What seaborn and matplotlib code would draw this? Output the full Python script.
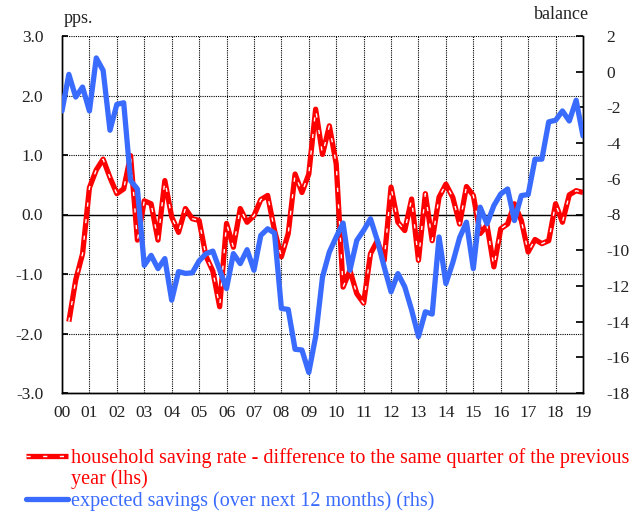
import numpy as np
import pandas as pd
import seaborn as sns
import matplotlib
matplotlib.use("Agg")
from matplotlib import pyplot as plt
from matplotlib.lines import Line2D

# quarterly data, 2000Q1 .. 2019Q1
blue_start = 2000.0
expected_savings = [
    -2.2, -0.15, -1.42, -0.86,
    -2.2, 0.77, 0.07, -3.28,
    -1.83, -1.74, -6.1, -6.57,
    -10.85, -10.29, -11.03, -10.47,
    -12.8, -11.2, -11.3, -11.27,
    -10.6, -10.2, -10.05, -11.1,
    -12.15, -10.19, -10.75, -9.97,
    -11.12, -9.17, -8.8, -9.04,
    -13.26, -13.32, -15.55, -15.59,
    -16.85, -14.84, -11.5, -10.1,
    -9.26, -8.48, -11.12, -9.45,
    -8.89, -8.24, -9.45, -10.94,
    -12.33, -11.31, -12.05, -13.35,
    -14.84, -13.45, -13.58, -9.26,
    -11.87, -10.7, -9.3, -8.43,
    -11.03, -7.59, -8.52, -7.5,
    -6.85, -6.57, -8.34, -6.94,
    -6.88, -4.9, -4.9, -2.81,
    -2.72, -2.2, -2.76, -1.6,
    -3.6,
]

# quarterly data, 2000Q2 .. 2019Q1
red_start = 2000.25
saving_rate_diff = [
    -1.8, -1.1, -0.66,
    0.45, 0.75, 0.93, 0.62,
    0.35, 0.43, 0.99, -0.43,
    0.23, 0.18, -0.43, 0.57,
    -0.04, -0.3, 0.1, -0.07,
    -0.1, -0.7, -0.95, -1.55,
    -0.15, -0.55, 0.1, -0.13,
    -0.02, 0.25, 0.32, -0.27,
    -0.71, -0.32, 0.68, 0.37,
    0.68, 1.77, 1.01, 1.49,
    0.85, -1.22, -0.94, -1.33,
    -1.49, -0.66, -0.44, -0.77,
    0.46, -0.13, -0.27, 0.26,
    -0.77, 0.35, -0.44, 0.29,
    0.51, 0.29, -0.16, 0.47,
    0.32, -0.32, -0.18, -0.88,
    -0.24, -0.16, 0.18, -0.1,
    -0.63, -0.42, -0.49, -0.44,
    0.18, -0.13, 0.33, 0.4,
    0.37,
]

years = list(range(2000, 2020))
year_labels = [f"{y % 100:02d}" for y in years]
left_ticks = [3.0, 2.0, 1.0, 0.0, -1.0, -2.0, -3.0]
right_ticks = list(range(-18, 3, 2))

red_label_1 = "household saving rate - difference to the same quarter of the previous"
red_label_2 = "year (lhs)"
blue_label = "expected savings (over next 12 months) (rhs)"
RED = "#FF0000"
BLUE = "#3A6BFF"
TXT = "#222222"

red_df = pd.DataFrame({"t": red_start + 0.25 * np.arange(len(saving_rate_diff)),
                       "v": saving_rate_diff})
blue_df = pd.DataFrame({"t": blue_start + 0.25 * np.arange(len(expected_savings)),
                        "v": expected_savings})

sns.set_theme(style="white")
plt.rcParams["font.family"] = ["Liberation Serif", "DejaVu Serif"]
plt.rcParams["axes.unicode_minus"] = False

fig = plt.figure(figsize=(6.35, 5.13), dpi=100)
ax = fig.add_axes([62 / 635, 1 - 393 / 513, (583 - 62) / 635, (393 - 36) / 513])
ax2 = ax.twinx()

ax.set_axisbelow(True)
ax.grid(True, color="black", linestyle=(0, (1, 1)), linewidth=0.8)
ax.axhline(0, color="black", linewidth=1.0, zorder=1)

sns.lineplot(data=red_df, x="t", y="v", ax=ax, color=RED, linewidth=3.8,
             solid_capstyle="butt", zorder=3)
sns.lineplot(data=red_df, x="t", y="v", ax=ax, color="white", linewidth=1.0,
             linestyle=(0, (3, 9)), zorder=4)
sns.lineplot(data=blue_df, x="t", y="v", ax=ax2, color=BLUE, linewidth=3.8, zorder=3)

ax.set_xlim(2000, 2019)
ax.set_ylim(-3, 3)
ax2.set_ylim(-18, 2)
ax.set_xticks(years)
ax.set_xticklabels(year_labels)
ax.set_yticks(left_ticks)
ax.set_yticklabels([f"{v:.1f}" for v in left_ticks])
ax2.set_yticks(right_ticks)
ax2.set_yticklabels([str(v) for v in right_ticks])
ax.set_xlabel("")
ax.set_ylabel("")
ax2.set_ylabel("")

for a in (ax, ax2):
    a.spines["top"].set_visible(False)
    for s in ("left", "right", "bottom"):
        a.spines[s].set_color("black")
        a.spines[s].set_linewidth(1.0)
ax.tick_params(axis="both", direction="in", length=4, color="black",
               labelsize=12.5, labelcolor=TXT)
ax.tick_params(axis="y", pad=13.5)
ax.tick_params(axis="x", pad=8.5)
ax2.tick_params(axis="y", direction="in", length=5, color="black",
                labelsize=12.5, labelcolor=TXT, pad=17)

fig.text(64 / 635, 1 - 19 / 513, "pps.", fontsize=13, color=TXT, va="center")
fig.text(589 / 635, 1 - 15 / 513, "balance", fontsize=13, color=TXT,
         va="center", ha="right")

red_line = ax.get_lines()[-2]
white_line = ax.get_lines()[-1]
blue_line = ax2.get_lines()[-1]
blank = Line2D([], [], color="none")
leg = fig.legend([(red_line, white_line), blank, blue_line],
                 [red_label_1, red_label_2, blue_label],
                 loc="upper left", bbox_to_anchor=(18 / 635, 1 - 440 / 513),
                 frameon=False, fontsize=14.5, handlelength=2.1,
                 handletextpad=0.15, labelspacing=0.08, borderaxespad=0)
for txt, c in zip(leg.get_texts(), [RED, RED, BLUE]):
    txt.set_color(c)

fig.savefig("out.png", dpi=100)
